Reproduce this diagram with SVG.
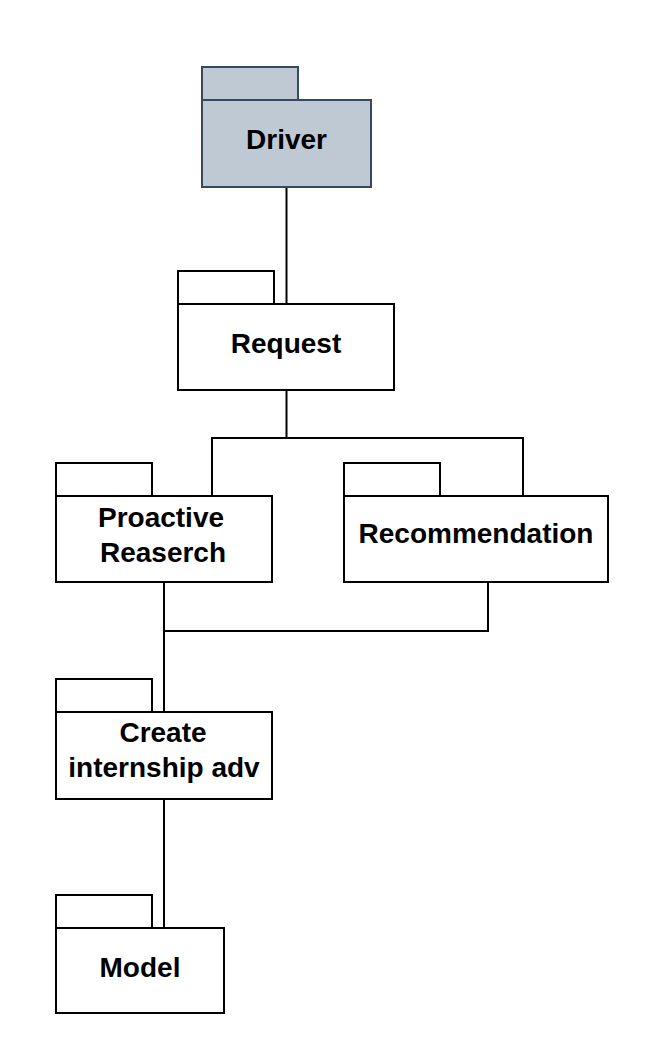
<svg xmlns="http://www.w3.org/2000/svg" width="666" height="1044" viewBox="0 0 666 1044">
<style>
.pk{fill:#ffffff;stroke:#000000;stroke-width:2}
.drv{fill:#bfc9d4;stroke:#37495e;stroke-width:2}
.lbl{font-family:"Liberation Sans",Arial,sans-serif;font-weight:bold;font-size:28px;fill:#000000;text-anchor:middle}
.cn{fill:none;stroke:#000000;stroke-width:2}
</style>
<rect width="666" height="1044" fill="#ffffff"/>
<g id="connectors">
<path class="cn" d="M286.5 187 V304"/>
<path class="cn" d="M286.5 390 V438 M212 497 V438 H523 V496"/>
<path class="cn" d="M164 582 V712 M164 631 H488 V582"/>
<path class="cn" d="M164 799 V928"/>
</g>
<g id="driver">
<rect class="drv" x="202" y="67" width="96" height="33"/>
<rect class="drv" x="202" y="100" width="169" height="87"/>
<text class="lbl" x="286.5" y="149">Driver</text>
</g>
<g id="request">
<rect class="pk" x="178" y="271" width="96" height="33"/>
<rect class="pk" x="178" y="304" width="216" height="86"/>
<text class="lbl" x="286" y="353">Request</text>
</g>
<g id="proactive">
<rect class="pk" x="56" y="463" width="96" height="33"/>
<rect class="pk" x="56" y="496" width="216" height="86"/>
<text class="lbl" x="161" y="527">Proactive</text>
<text class="lbl" x="163" y="562">Reaserch</text>
</g>
<g id="recommendation">
<rect class="pk" x="344" y="463" width="96" height="33"/>
<rect class="pk" x="344" y="496" width="264" height="86"/>
<text class="lbl" x="476" y="543">Recommendation</text>
</g>
<g id="create">
<rect class="pk" x="56" y="679" width="96" height="33"/>
<rect class="pk" x="56" y="712" width="216" height="87"/>
<text class="lbl" x="163" y="742">Create</text>
<text class="lbl" x="164" y="777">internship adv</text>
</g>
<g id="model">
<rect class="pk" x="56" y="895" width="96" height="33"/>
<rect class="pk" x="56" y="928" width="168" height="85"/>
<text class="lbl" x="140" y="977">Model</text>
</g>
</svg>
